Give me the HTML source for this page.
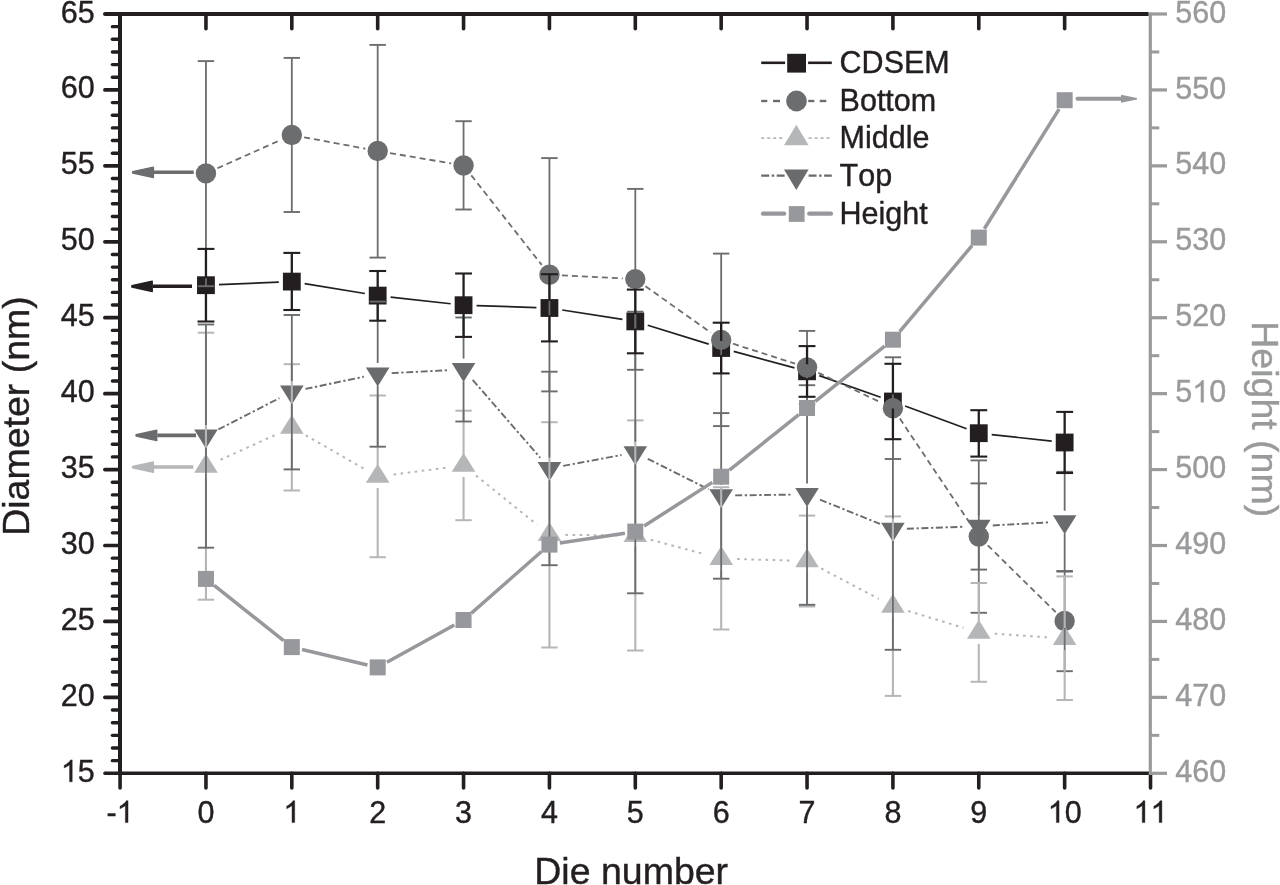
<!DOCTYPE html>
<html><head><meta charset="utf-8"><title>Chart</title>
<style>
html,body{margin:0;padding:0;background:#fff;}
body{width:1280px;height:885px;overflow:hidden;}
text{font-kerning:none;stroke-width:0.4px;paint-order:stroke;}
svg{display:block;will-change:transform;font-family:"Liberation Sans",sans-serif;}
</style></head><body>
<svg width="1280" height="885" viewBox="0 0 1280 885">
<rect width="1280" height="885" fill="#fff"/>
<line x1="218.94" y1="284.66" x2="278.83" y2="282.14" stroke="#231f20" stroke-width="1.7" />
<line x1="304.65" y1="283.69" x2="364.86" y2="293.51" stroke="#231f20" stroke-width="1.7" />
<line x1="390.61" y1="297.04" x2="450.64" y2="303.76" stroke="#231f20" stroke-width="1.7" />
<line x1="476.55" y1="305.62" x2="536.44" y2="307.58" stroke="#231f20" stroke-width="1.7" />
<line x1="562.27" y1="310" x2="622.46" y2="319.4" stroke="#231f20" stroke-width="1.7" />
<line x1="647.72" y1="325.25" x2="708.75" y2="344.15" stroke="#231f20" stroke-width="1.7" />
<line x1="733.72" y1="351.4" x2="794.49" y2="367.9" stroke="#231f20" stroke-width="1.7" />
<line x1="819.3" y1="375.61" x2="880.65" y2="397.19" stroke="#231f20" stroke-width="1.7" />
<line x1="905.11" y1="406" x2="966.58" y2="428.7" stroke="#231f20" stroke-width="1.7" />
<line x1="991.7" y1="434.6" x2="1051.73" y2="441.1" stroke="#231f20" stroke-width="1.7" />
<rect x="197.05" y="276.3" width="17.8" height="17.8" fill="#231f20"/>
<rect x="282.92" y="272.7" width="17.8" height="17.8" fill="#231f20"/>
<rect x="368.79" y="286.7" width="17.8" height="17.8" fill="#231f20"/>
<rect x="454.66" y="296.3" width="17.8" height="17.8" fill="#231f20"/>
<rect x="540.53" y="299.1" width="17.8" height="17.8" fill="#231f20"/>
<rect x="626.4" y="312.5" width="17.8" height="17.8" fill="#231f20"/>
<rect x="712.27" y="339.1" width="17.8" height="17.8" fill="#231f20"/>
<rect x="798.14" y="362.4" width="17.8" height="17.8" fill="#231f20"/>
<rect x="884.01" y="392.6" width="17.8" height="17.8" fill="#231f20"/>
<rect x="969.88" y="424.3" width="17.8" height="17.8" fill="#231f20"/>
<rect x="1055.75" y="433.6" width="17.8" height="17.8" fill="#231f20"/>
<line x1="217.36" y1="168.3" x2="280.41" y2="140.1" stroke="#6c6d6f" stroke-width="1.8" stroke-dasharray="6 4"/>
<line x1="304.11" y1="137.29" x2="365.4" y2="148.71" stroke="#6c6d6f" stroke-width="1.8" stroke-dasharray="6 4"/>
<line x1="390.02" y1="153.08" x2="451.23" y2="163.42" stroke="#6c6d6f" stroke-width="1.8" stroke-dasharray="6 4"/>
<line x1="471.29" y1="175.33" x2="541.7" y2="264.87" stroke="#6c6d6f" stroke-width="1.8" stroke-dasharray="6 4"/>
<line x1="561.91" y1="275.34" x2="622.82" y2="278.46" stroke="#6c6d6f" stroke-width="1.8" stroke-dasharray="6 4"/>
<line x1="645.5" y1="286.32" x2="710.97" y2="332.68" stroke="#6c6d6f" stroke-width="1.8" stroke-dasharray="6 4"/>
<line x1="733.07" y1="343.72" x2="795.14" y2="363.68" stroke="#6c6d6f" stroke-width="1.8" stroke-dasharray="6 4"/>
<line x1="818.34" y1="372.85" x2="881.61" y2="402.85" stroke="#6c6d6f" stroke-width="1.8" stroke-dasharray="6 4"/>
<line x1="899.86" y1="418.59" x2="971.83" y2="526.11" stroke="#6c6d6f" stroke-width="1.8" stroke-dasharray="6 4"/>
<line x1="987.69" y1="545.27" x2="1055.74" y2="612.23" stroke="#6c6d6f" stroke-width="1.8" stroke-dasharray="6 4"/>
<circle cx="205.95" cy="173.4" r="10.2" fill="#6c6d6f"/>
<circle cx="291.82" cy="135" r="10.2" fill="#6c6d6f"/>
<circle cx="377.69" cy="151" r="10.2" fill="#6c6d6f"/>
<circle cx="463.56" cy="165.5" r="10.2" fill="#6c6d6f"/>
<circle cx="549.43" cy="274.7" r="10.2" fill="#6c6d6f"/>
<circle cx="635.3" cy="279.1" r="10.2" fill="#6c6d6f"/>
<circle cx="721.17" cy="339.9" r="10.2" fill="#6c6d6f"/>
<circle cx="807.04" cy="367.5" r="10.2" fill="#6c6d6f"/>
<circle cx="892.91" cy="408.2" r="10.2" fill="#6c6d6f"/>
<circle cx="978.78" cy="536.5" r="10.2" fill="#6c6d6f"/>
<circle cx="1064.65" cy="621" r="10.2" fill="#6c6d6f"/>
<line x1="220.52" y1="459.78" x2="277.25" y2="434.02" stroke="#b5b6b8" stroke-width="2" stroke-dasharray="2.6 4.5"/>
<line x1="305.71" y1="435.34" x2="363.8" y2="468.56" stroke="#b5b6b8" stroke-width="2" stroke-dasharray="2.6 4.5"/>
<line x1="393.56" y1="474.47" x2="447.69" y2="467.53" stroke="#b5b6b8" stroke-width="2" stroke-dasharray="2.6 4.5"/>
<line x1="476.02" y1="475.54" x2="536.97" y2="524.66" stroke="#b5b6b8" stroke-width="2" stroke-dasharray="2.6 4.5"/>
<line x1="565.43" y1="534.87" x2="619.3" y2="535.43" stroke="#b5b6b8" stroke-width="2" stroke-dasharray="2.6 4.5"/>
<line x1="650.76" y1="539.74" x2="705.71" y2="554.46" stroke="#b5b6b8" stroke-width="2" stroke-dasharray="2.6 4.5"/>
<line x1="737.16" y1="559.05" x2="791.05" y2="560.55" stroke="#b5b6b8" stroke-width="2" stroke-dasharray="2.6 4.5"/>
<line x1="821.19" y1="568.47" x2="878.76" y2="598.83" stroke="#b5b6b8" stroke-width="2" stroke-dasharray="2.6 4.5"/>
<line x1="908.21" y1="610.97" x2="963.48" y2="627.83" stroke="#b5b6b8" stroke-width="2" stroke-dasharray="2.6 4.5"/>
<line x1="994.74" y1="633.63" x2="1048.69" y2="637.47" stroke="#b5b6b8" stroke-width="2" stroke-dasharray="2.6 4.5"/>
<polygon points="194.15,472.73 217.75,472.73 205.95,453.73" fill="#b5b6b8"/>
<polygon points="280.02,433.73 303.62,433.73 291.82,414.73" fill="#b5b6b8"/>
<polygon points="365.89,482.83 389.49,482.83 377.69,463.83" fill="#b5b6b8"/>
<polygon points="451.76,471.83 475.36,471.83 463.56,452.83" fill="#b5b6b8"/>
<polygon points="537.63,541.03 561.23,541.03 549.43,522.03" fill="#b5b6b8"/>
<polygon points="623.5,541.93 647.1,541.93 635.3,522.93" fill="#b5b6b8"/>
<polygon points="709.37,564.93 732.97,564.93 721.17,545.93" fill="#b5b6b8"/>
<polygon points="795.24,567.33 818.84,567.33 807.04,548.33" fill="#b5b6b8"/>
<polygon points="881.11,612.63 904.71,612.63 892.91,593.63" fill="#b5b6b8"/>
<polygon points="966.98,638.83 990.58,638.83 978.78,619.83" fill="#b5b6b8"/>
<polygon points="1052.85,644.93 1076.45,644.93 1064.65,625.93" fill="#b5b6b8"/>
<line x1="218.41" y1="429.42" x2="279.36" y2="398.18" stroke="#6a6b6d" stroke-width="1.9" stroke-dasharray="7 2.6 2.3 2.6"/>
<line x1="305.52" y1="388.93" x2="363.99" y2="376.67" stroke="#6a6b6d" stroke-width="1.9" stroke-dasharray="7 2.6 2.3 2.6"/>
<line x1="391.67" y1="373.08" x2="449.58" y2="370.12" stroke="#6a6b6d" stroke-width="1.9" stroke-dasharray="7 2.6 2.3 2.6"/>
<line x1="472.73" y1="379.98" x2="540.26" y2="457.82" stroke="#6a6b6d" stroke-width="1.9" stroke-dasharray="7 2.6 2.3 2.6"/>
<line x1="563.2" y1="465.85" x2="621.53" y2="455.05" stroke="#6a6b6d" stroke-width="1.9" stroke-dasharray="7 2.6 2.3 2.6"/>
<line x1="647.81" y1="458.78" x2="708.66" y2="489.32" stroke="#6a6b6d" stroke-width="1.9" stroke-dasharray="7 2.6 2.3 2.6"/>
<line x1="735.17" y1="495.4" x2="793.04" y2="494.6" stroke="#6a6b6d" stroke-width="1.9" stroke-dasharray="7 2.6 2.3 2.6"/>
<line x1="820.01" y1="499.66" x2="879.94" y2="523.94" stroke="#6a6b6d" stroke-width="1.9" stroke-dasharray="7 2.6 2.3 2.6"/>
<line x1="906.9" y1="528.71" x2="964.79" y2="526.69" stroke="#6a6b6d" stroke-width="1.9" stroke-dasharray="7 2.6 2.3 2.6"/>
<line x1="992.76" y1="525.43" x2="1050.67" y2="522.27" stroke="#6a6b6d" stroke-width="1.9" stroke-dasharray="7 2.6 2.3 2.6"/>
<polygon points="194.15,429.47 217.75,429.47 205.95,448.47" fill="#6a6b6d"/>
<polygon points="280.02,385.47 303.62,385.47 291.82,404.47" fill="#6a6b6d"/>
<polygon points="365.89,367.47 389.49,367.47 377.69,386.47" fill="#6a6b6d"/>
<polygon points="451.76,363.07 475.36,363.07 463.56,382.07" fill="#6a6b6d"/>
<polygon points="537.63,462.07 561.23,462.07 549.43,481.07" fill="#6a6b6d"/>
<polygon points="623.5,446.17 647.1,446.17 635.3,465.17" fill="#6a6b6d"/>
<polygon points="709.37,489.27 732.97,489.27 721.17,508.27" fill="#6a6b6d"/>
<polygon points="795.24,488.07 818.84,488.07 807.04,507.07" fill="#6a6b6d"/>
<polygon points="881.11,522.87 904.71,522.87 892.91,541.87" fill="#6a6b6d"/>
<polygon points="966.98,519.87 990.58,519.87 978.78,538.87" fill="#6a6b6d"/>
<polygon points="1052.85,515.17 1076.45,515.17 1064.65,534.17" fill="#6a6b6d"/>
<line x1="205.95" y1="61.1" x2="205.95" y2="166.4" stroke="#6c6d6f" stroke-width="1.8" />
<line x1="205.95" y1="180.4" x2="205.95" y2="286.2" stroke="#6c6d6f" stroke-width="1.8" />
<line x1="197.75" y1="61.1" x2="214.15" y2="61.1" stroke="#6c6d6f" stroke-width="1.9" />
<line x1="197.75" y1="286.2" x2="214.15" y2="286.2" stroke="#6c6d6f" stroke-width="1.9" />
<line x1="291.82" y1="57.9" x2="291.82" y2="128" stroke="#6c6d6f" stroke-width="1.8" />
<line x1="291.82" y1="142" x2="291.82" y2="212" stroke="#6c6d6f" stroke-width="1.8" />
<line x1="283.62" y1="57.9" x2="300.02" y2="57.9" stroke="#6c6d6f" stroke-width="1.9" />
<line x1="283.62" y1="212" x2="300.02" y2="212" stroke="#6c6d6f" stroke-width="1.9" />
<line x1="377.69" y1="44.9" x2="377.69" y2="144" stroke="#6c6d6f" stroke-width="1.8" />
<line x1="377.69" y1="158" x2="377.69" y2="257.6" stroke="#6c6d6f" stroke-width="1.8" />
<line x1="369.49" y1="44.9" x2="385.89" y2="44.9" stroke="#6c6d6f" stroke-width="1.9" />
<line x1="369.49" y1="257.6" x2="385.89" y2="257.6" stroke="#6c6d6f" stroke-width="1.9" />
<line x1="463.56" y1="121.2" x2="463.56" y2="158.5" stroke="#6c6d6f" stroke-width="1.8" />
<line x1="463.56" y1="172.5" x2="463.56" y2="209.5" stroke="#6c6d6f" stroke-width="1.8" />
<line x1="455.36" y1="121.2" x2="471.76" y2="121.2" stroke="#6c6d6f" stroke-width="1.9" />
<line x1="455.36" y1="209.5" x2="471.76" y2="209.5" stroke="#6c6d6f" stroke-width="1.9" />
<line x1="549.43" y1="158.1" x2="549.43" y2="267.7" stroke="#6c6d6f" stroke-width="1.8" />
<line x1="549.43" y1="281.7" x2="549.43" y2="391.4" stroke="#6c6d6f" stroke-width="1.8" />
<line x1="541.23" y1="158.1" x2="557.63" y2="158.1" stroke="#6c6d6f" stroke-width="1.9" />
<line x1="541.23" y1="391.4" x2="557.63" y2="391.4" stroke="#6c6d6f" stroke-width="1.9" />
<line x1="635.3" y1="188.9" x2="635.3" y2="272.1" stroke="#6c6d6f" stroke-width="1.8" />
<line x1="635.3" y1="286.1" x2="635.3" y2="369.8" stroke="#6c6d6f" stroke-width="1.8" />
<line x1="627.1" y1="188.9" x2="643.5" y2="188.9" stroke="#6c6d6f" stroke-width="1.9" />
<line x1="627.1" y1="369.8" x2="643.5" y2="369.8" stroke="#6c6d6f" stroke-width="1.9" />
<line x1="721.17" y1="253.6" x2="721.17" y2="332.9" stroke="#6c6d6f" stroke-width="1.8" />
<line x1="721.17" y1="346.9" x2="721.17" y2="426.1" stroke="#6c6d6f" stroke-width="1.8" />
<line x1="712.97" y1="253.6" x2="729.37" y2="253.6" stroke="#6c6d6f" stroke-width="1.9" />
<line x1="712.97" y1="426.1" x2="729.37" y2="426.1" stroke="#6c6d6f" stroke-width="1.9" />
<line x1="807.04" y1="330.9" x2="807.04" y2="360.5" stroke="#6c6d6f" stroke-width="1.8" />
<line x1="807.04" y1="374.5" x2="807.04" y2="404.1" stroke="#6c6d6f" stroke-width="1.8" />
<line x1="798.84" y1="330.9" x2="815.24" y2="330.9" stroke="#6c6d6f" stroke-width="1.9" />
<line x1="798.84" y1="404.1" x2="815.24" y2="404.1" stroke="#6c6d6f" stroke-width="1.9" />
<line x1="892.91" y1="357.3" x2="892.91" y2="401.2" stroke="#6c6d6f" stroke-width="1.8" />
<line x1="892.91" y1="415.2" x2="892.91" y2="459" stroke="#6c6d6f" stroke-width="1.8" />
<line x1="884.71" y1="357.3" x2="901.11" y2="357.3" stroke="#6c6d6f" stroke-width="1.9" />
<line x1="884.71" y1="459" x2="901.11" y2="459" stroke="#6c6d6f" stroke-width="1.9" />
<line x1="978.78" y1="460.4" x2="978.78" y2="529.5" stroke="#6c6d6f" stroke-width="1.8" />
<line x1="978.78" y1="543.5" x2="978.78" y2="612.8" stroke="#6c6d6f" stroke-width="1.8" />
<line x1="970.58" y1="460.4" x2="986.98" y2="460.4" stroke="#6c6d6f" stroke-width="1.9" />
<line x1="970.58" y1="612.8" x2="986.98" y2="612.8" stroke="#6c6d6f" stroke-width="1.9" />
<line x1="1064.65" y1="571.6" x2="1064.65" y2="614" stroke="#6c6d6f" stroke-width="1.8" />
<line x1="1064.65" y1="628" x2="1064.65" y2="671.2" stroke="#6c6d6f" stroke-width="1.8" />
<line x1="1056.45" y1="571.6" x2="1072.85" y2="571.6" stroke="#6c6d6f" stroke-width="1.9" />
<line x1="1056.45" y1="671.2" x2="1072.85" y2="671.2" stroke="#6c6d6f" stroke-width="1.9" />
<line x1="205.95" y1="332.7" x2="205.95" y2="455.4" stroke="#b5b6b8" stroke-width="2.1" />
<line x1="205.95" y1="477.9" x2="205.95" y2="599.7" stroke="#b5b6b8" stroke-width="2.1" />
<line x1="197.75" y1="332.7" x2="214.15" y2="332.7" stroke="#b5b6b8" stroke-width="2.0" />
<line x1="197.75" y1="599.7" x2="214.15" y2="599.7" stroke="#b5b6b8" stroke-width="2.0" />
<line x1="291.82" y1="364.2" x2="291.82" y2="416.4" stroke="#b5b6b8" stroke-width="2.1" />
<line x1="291.82" y1="438.9" x2="291.82" y2="490.5" stroke="#b5b6b8" stroke-width="2.1" />
<line x1="283.62" y1="364.2" x2="300.02" y2="364.2" stroke="#b5b6b8" stroke-width="2.0" />
<line x1="283.62" y1="490.5" x2="300.02" y2="490.5" stroke="#b5b6b8" stroke-width="2.0" />
<line x1="377.69" y1="395.5" x2="377.69" y2="465.5" stroke="#b5b6b8" stroke-width="2.1" />
<line x1="377.69" y1="488" x2="377.69" y2="557.2" stroke="#b5b6b8" stroke-width="2.1" />
<line x1="369.49" y1="395.5" x2="385.89" y2="395.5" stroke="#b5b6b8" stroke-width="2.0" />
<line x1="369.49" y1="557.2" x2="385.89" y2="557.2" stroke="#b5b6b8" stroke-width="2.0" />
<line x1="463.56" y1="410.7" x2="463.56" y2="454.5" stroke="#b5b6b8" stroke-width="2.1" />
<line x1="463.56" y1="477" x2="463.56" y2="520.2" stroke="#b5b6b8" stroke-width="2.1" />
<line x1="455.36" y1="410.7" x2="471.76" y2="410.7" stroke="#b5b6b8" stroke-width="2.0" />
<line x1="455.36" y1="520.2" x2="471.76" y2="520.2" stroke="#b5b6b8" stroke-width="2.0" />
<line x1="549.43" y1="422.2" x2="549.43" y2="523.7" stroke="#b5b6b8" stroke-width="2.1" />
<line x1="549.43" y1="546.2" x2="549.43" y2="647.5" stroke="#b5b6b8" stroke-width="2.1" />
<line x1="541.23" y1="422.2" x2="557.63" y2="422.2" stroke="#b5b6b8" stroke-width="2.0" />
<line x1="541.23" y1="647.5" x2="557.63" y2="647.5" stroke="#b5b6b8" stroke-width="2.0" />
<line x1="635.3" y1="420.4" x2="635.3" y2="524.6" stroke="#b5b6b8" stroke-width="2.1" />
<line x1="635.3" y1="547.1" x2="635.3" y2="650.5" stroke="#b5b6b8" stroke-width="2.1" />
<line x1="627.1" y1="420.4" x2="643.5" y2="420.4" stroke="#b5b6b8" stroke-width="2.0" />
<line x1="627.1" y1="650.5" x2="643.5" y2="650.5" stroke="#b5b6b8" stroke-width="2.0" />
<line x1="721.17" y1="487.2" x2="721.17" y2="547.6" stroke="#b5b6b8" stroke-width="2.1" />
<line x1="721.17" y1="570.1" x2="721.17" y2="629.5" stroke="#b5b6b8" stroke-width="2.1" />
<line x1="712.97" y1="487.2" x2="729.37" y2="487.2" stroke="#b5b6b8" stroke-width="2.0" />
<line x1="712.97" y1="629.5" x2="729.37" y2="629.5" stroke="#b5b6b8" stroke-width="2.0" />
<line x1="807.04" y1="515.6" x2="807.04" y2="550" stroke="#b5b6b8" stroke-width="2.1" />
<line x1="807.04" y1="572.5" x2="807.04" y2="606.5" stroke="#b5b6b8" stroke-width="2.1" />
<line x1="798.84" y1="515.6" x2="815.24" y2="515.6" stroke="#b5b6b8" stroke-width="2.0" />
<line x1="798.84" y1="606.5" x2="815.24" y2="606.5" stroke="#b5b6b8" stroke-width="2.0" />
<line x1="892.91" y1="516.4" x2="892.91" y2="595.3" stroke="#b5b6b8" stroke-width="2.1" />
<line x1="892.91" y1="617.8" x2="892.91" y2="695.9" stroke="#b5b6b8" stroke-width="2.1" />
<line x1="884.71" y1="516.4" x2="901.11" y2="516.4" stroke="#b5b6b8" stroke-width="2.0" />
<line x1="884.71" y1="695.9" x2="901.11" y2="695.9" stroke="#b5b6b8" stroke-width="2.0" />
<line x1="978.78" y1="583" x2="978.78" y2="621.5" stroke="#b5b6b8" stroke-width="2.1" />
<line x1="978.78" y1="644" x2="978.78" y2="681.8" stroke="#b5b6b8" stroke-width="2.1" />
<line x1="970.58" y1="583" x2="986.98" y2="583" stroke="#b5b6b8" stroke-width="2.0" />
<line x1="970.58" y1="681.8" x2="986.98" y2="681.8" stroke="#b5b6b8" stroke-width="2.0" />
<line x1="1064.65" y1="576.4" x2="1064.65" y2="627.6" stroke="#b5b6b8" stroke-width="2.1" />
<line x1="1064.65" y1="650.1" x2="1064.65" y2="700" stroke="#b5b6b8" stroke-width="2.1" />
<line x1="1056.45" y1="576.4" x2="1072.85" y2="576.4" stroke="#b5b6b8" stroke-width="2.0" />
<line x1="1056.45" y1="700" x2="1072.85" y2="700" stroke="#b5b6b8" stroke-width="2.0" />
<line x1="205.95" y1="324.5" x2="205.95" y2="425" stroke="#6a6b6d" stroke-width="1.8" />
<line x1="205.95" y1="447.6" x2="205.95" y2="547.7" stroke="#6a6b6d" stroke-width="1.8" />
<line x1="197.75" y1="324.5" x2="214.15" y2="324.5" stroke="#6a6b6d" stroke-width="1.9" />
<line x1="197.75" y1="547.7" x2="214.15" y2="547.7" stroke="#6a6b6d" stroke-width="1.9" />
<line x1="291.82" y1="315" x2="291.82" y2="381" stroke="#6a6b6d" stroke-width="1.8" />
<line x1="291.82" y1="403.6" x2="291.82" y2="469.4" stroke="#6a6b6d" stroke-width="1.8" />
<line x1="283.62" y1="315" x2="300.02" y2="315" stroke="#6a6b6d" stroke-width="1.9" />
<line x1="283.62" y1="469.4" x2="300.02" y2="469.4" stroke="#6a6b6d" stroke-width="1.9" />
<line x1="377.69" y1="301.6" x2="377.69" y2="363" stroke="#6a6b6d" stroke-width="1.8" />
<line x1="377.69" y1="385.6" x2="377.69" y2="446.7" stroke="#6a6b6d" stroke-width="1.8" />
<line x1="369.49" y1="301.6" x2="385.89" y2="301.6" stroke="#6a6b6d" stroke-width="1.9" />
<line x1="369.49" y1="446.7" x2="385.89" y2="446.7" stroke="#6a6b6d" stroke-width="1.9" />
<line x1="463.56" y1="317.5" x2="463.56" y2="358.6" stroke="#6a6b6d" stroke-width="1.8" />
<line x1="463.56" y1="381.2" x2="463.56" y2="421.5" stroke="#6a6b6d" stroke-width="1.8" />
<line x1="455.36" y1="317.5" x2="471.76" y2="317.5" stroke="#6a6b6d" stroke-width="1.9" />
<line x1="455.36" y1="421.5" x2="471.76" y2="421.5" stroke="#6a6b6d" stroke-width="1.9" />
<line x1="549.43" y1="371.7" x2="549.43" y2="457.6" stroke="#6a6b6d" stroke-width="1.8" />
<line x1="549.43" y1="480.2" x2="549.43" y2="565.2" stroke="#6a6b6d" stroke-width="1.8" />
<line x1="541.23" y1="371.7" x2="557.63" y2="371.7" stroke="#6a6b6d" stroke-width="1.9" />
<line x1="541.23" y1="565.2" x2="557.63" y2="565.2" stroke="#6a6b6d" stroke-width="1.9" />
<line x1="635.3" y1="311.7" x2="635.3" y2="441.7" stroke="#6a6b6d" stroke-width="1.8" />
<line x1="635.3" y1="464.3" x2="635.3" y2="593.3" stroke="#6a6b6d" stroke-width="1.8" />
<line x1="627.1" y1="311.7" x2="643.5" y2="311.7" stroke="#6a6b6d" stroke-width="1.9" />
<line x1="627.1" y1="593.3" x2="643.5" y2="593.3" stroke="#6a6b6d" stroke-width="1.9" />
<line x1="721.17" y1="413.1" x2="721.17" y2="484.8" stroke="#6a6b6d" stroke-width="1.8" />
<line x1="721.17" y1="507.4" x2="721.17" y2="578.7" stroke="#6a6b6d" stroke-width="1.8" />
<line x1="712.97" y1="413.1" x2="729.37" y2="413.1" stroke="#6a6b6d" stroke-width="1.9" />
<line x1="712.97" y1="578.7" x2="729.37" y2="578.7" stroke="#6a6b6d" stroke-width="1.9" />
<line x1="807.04" y1="385.2" x2="807.04" y2="483.6" stroke="#6a6b6d" stroke-width="1.8" />
<line x1="807.04" y1="506.2" x2="807.04" y2="604.8" stroke="#6a6b6d" stroke-width="1.8" />
<line x1="798.84" y1="385.2" x2="815.24" y2="385.2" stroke="#6a6b6d" stroke-width="1.9" />
<line x1="798.84" y1="604.8" x2="815.24" y2="604.8" stroke="#6a6b6d" stroke-width="1.9" />
<line x1="892.91" y1="408.4" x2="892.91" y2="518.4" stroke="#6a6b6d" stroke-width="1.8" />
<line x1="892.91" y1="541" x2="892.91" y2="649.8" stroke="#6a6b6d" stroke-width="1.8" />
<line x1="884.71" y1="408.4" x2="901.11" y2="408.4" stroke="#6a6b6d" stroke-width="1.9" />
<line x1="884.71" y1="649.8" x2="901.11" y2="649.8" stroke="#6a6b6d" stroke-width="1.9" />
<line x1="978.78" y1="483.4" x2="978.78" y2="515.4" stroke="#6a6b6d" stroke-width="1.8" />
<line x1="978.78" y1="538" x2="978.78" y2="569.6" stroke="#6a6b6d" stroke-width="1.8" />
<line x1="970.58" y1="483.4" x2="986.98" y2="483.4" stroke="#6a6b6d" stroke-width="1.9" />
<line x1="970.58" y1="569.6" x2="986.98" y2="569.6" stroke="#6a6b6d" stroke-width="1.9" />
<line x1="1064.65" y1="471.8" x2="1064.65" y2="510.7" stroke="#6a6b6d" stroke-width="1.8" />
<line x1="1064.65" y1="533.3" x2="1064.65" y2="571" stroke="#6a6b6d" stroke-width="1.8" />
<line x1="1056.45" y1="471.8" x2="1072.85" y2="471.8" stroke="#6a6b6d" stroke-width="1.9" />
<line x1="1056.45" y1="571" x2="1072.85" y2="571" stroke="#6a6b6d" stroke-width="1.9" />
<line x1="205.95" y1="248.9" x2="205.95" y2="278.2" stroke="#231f20" stroke-width="2.3" />
<line x1="205.95" y1="292.2" x2="205.95" y2="321.5" stroke="#231f20" stroke-width="2.3" />
<line x1="197.5" y1="248.9" x2="214.4" y2="248.9" stroke="#231f20" stroke-width="2.1" />
<line x1="197.5" y1="321.5" x2="214.4" y2="321.5" stroke="#231f20" stroke-width="2.1" />
<line x1="291.82" y1="252.9" x2="291.82" y2="274.6" stroke="#231f20" stroke-width="2.3" />
<line x1="291.82" y1="288.6" x2="291.82" y2="310" stroke="#231f20" stroke-width="2.3" />
<line x1="283.37" y1="252.9" x2="300.27" y2="252.9" stroke="#231f20" stroke-width="2.1" />
<line x1="283.37" y1="310" x2="300.27" y2="310" stroke="#231f20" stroke-width="2.1" />
<line x1="377.69" y1="271" x2="377.69" y2="288.6" stroke="#231f20" stroke-width="2.3" />
<line x1="377.69" y1="302.6" x2="377.69" y2="320.7" stroke="#231f20" stroke-width="2.3" />
<line x1="369.24" y1="271" x2="386.14" y2="271" stroke="#231f20" stroke-width="2.1" />
<line x1="369.24" y1="320.7" x2="386.14" y2="320.7" stroke="#231f20" stroke-width="2.1" />
<line x1="463.56" y1="273.5" x2="463.56" y2="298.2" stroke="#231f20" stroke-width="2.3" />
<line x1="463.56" y1="312.2" x2="463.56" y2="336.9" stroke="#231f20" stroke-width="2.3" />
<line x1="455.11" y1="273.5" x2="472.01" y2="273.5" stroke="#231f20" stroke-width="2.1" />
<line x1="455.11" y1="336.9" x2="472.01" y2="336.9" stroke="#231f20" stroke-width="2.1" />
<line x1="549.43" y1="274.2" x2="549.43" y2="301" stroke="#231f20" stroke-width="2.3" />
<line x1="549.43" y1="315" x2="549.43" y2="341.4" stroke="#231f20" stroke-width="2.3" />
<line x1="540.98" y1="274.2" x2="557.88" y2="274.2" stroke="#231f20" stroke-width="2.1" />
<line x1="540.98" y1="341.4" x2="557.88" y2="341.4" stroke="#231f20" stroke-width="2.1" />
<line x1="635.3" y1="289.6" x2="635.3" y2="314.4" stroke="#231f20" stroke-width="2.3" />
<line x1="635.3" y1="328.4" x2="635.3" y2="353.3" stroke="#231f20" stroke-width="2.3" />
<line x1="626.85" y1="289.6" x2="643.75" y2="289.6" stroke="#231f20" stroke-width="2.1" />
<line x1="626.85" y1="353.3" x2="643.75" y2="353.3" stroke="#231f20" stroke-width="2.1" />
<line x1="721.17" y1="322.7" x2="721.17" y2="341" stroke="#231f20" stroke-width="2.3" />
<line x1="721.17" y1="355" x2="721.17" y2="373.4" stroke="#231f20" stroke-width="2.3" />
<line x1="712.72" y1="322.7" x2="729.62" y2="322.7" stroke="#231f20" stroke-width="2.1" />
<line x1="712.72" y1="373.4" x2="729.62" y2="373.4" stroke="#231f20" stroke-width="2.1" />
<line x1="807.04" y1="346.1" x2="807.04" y2="364.3" stroke="#231f20" stroke-width="2.3" />
<line x1="807.04" y1="378.3" x2="807.04" y2="396.8" stroke="#231f20" stroke-width="2.3" />
<line x1="798.59" y1="346.1" x2="815.49" y2="346.1" stroke="#231f20" stroke-width="2.1" />
<line x1="798.59" y1="396.8" x2="815.49" y2="396.8" stroke="#231f20" stroke-width="2.1" />
<line x1="892.91" y1="363.8" x2="892.91" y2="394.5" stroke="#231f20" stroke-width="2.3" />
<line x1="892.91" y1="408.5" x2="892.91" y2="439.2" stroke="#231f20" stroke-width="2.3" />
<line x1="884.46" y1="363.8" x2="901.36" y2="363.8" stroke="#231f20" stroke-width="2.1" />
<line x1="884.46" y1="439.2" x2="901.36" y2="439.2" stroke="#231f20" stroke-width="2.1" />
<line x1="978.78" y1="410.2" x2="978.78" y2="426.2" stroke="#231f20" stroke-width="2.3" />
<line x1="978.78" y1="440.2" x2="978.78" y2="456.6" stroke="#231f20" stroke-width="2.3" />
<line x1="970.33" y1="410.2" x2="987.23" y2="410.2" stroke="#231f20" stroke-width="2.1" />
<line x1="970.33" y1="456.6" x2="987.23" y2="456.6" stroke="#231f20" stroke-width="2.1" />
<line x1="1064.65" y1="411.9" x2="1064.65" y2="435.5" stroke="#231f20" stroke-width="2.3" />
<line x1="1064.65" y1="449.5" x2="1064.65" y2="473" stroke="#231f20" stroke-width="2.3" />
<line x1="1056.2" y1="411.9" x2="1073.1" y2="411.9" stroke="#231f20" stroke-width="2.1" />
<line x1="1056.2" y1="473" x2="1073.1" y2="473" stroke="#231f20" stroke-width="2.1" />
<line x1="214.17" y1="585.43" x2="283.6" y2="640.57" stroke="#97989b" stroke-width="3.5" />
<line x1="302.04" y1="649.52" x2="367.47" y2="664.98" stroke="#97989b" stroke-width="3.5" />
<line x1="386.88" y1="662.33" x2="454.37" y2="625.07" stroke="#97989b" stroke-width="3.5" />
<line x1="471.45" y1="613.07" x2="541.54" y2="551.53" stroke="#97989b" stroke-width="3.5" />
<line x1="559.81" y1="543.03" x2="624.92" y2="533.17" stroke="#97989b" stroke-width="3.5" />
<line x1="644.15" y1="525.94" x2="712.32" y2="482.36" stroke="#97989b" stroke-width="3.5" />
<line x1="729.37" y1="470.14" x2="798.84" y2="414.56" stroke="#97989b" stroke-width="3.5" />
<line x1="815.26" y1="401.46" x2="884.69" y2="346.24" stroke="#97989b" stroke-width="3.5" />
<line x1="899.67" y1="331.66" x2="972.02" y2="245.64" stroke="#97989b" stroke-width="3.5" />
<line x1="984.34" y1="228.7" x2="1059.09" y2="109.1" stroke="#97989b" stroke-width="3.5" />
<rect x="197.95" y="570.9" width="16" height="16" fill="#97989b"/>
<rect x="283.82" y="639.1" width="16" height="16" fill="#97989b"/>
<rect x="369.69" y="659.4" width="16" height="16" fill="#97989b"/>
<rect x="455.56" y="612" width="16" height="16" fill="#97989b"/>
<rect x="541.43" y="536.6" width="16" height="16" fill="#97989b"/>
<rect x="627.3" y="523.6" width="16" height="16" fill="#97989b"/>
<rect x="713.17" y="468.7" width="16" height="16" fill="#97989b"/>
<rect x="799.04" y="400" width="16" height="16" fill="#97989b"/>
<rect x="884.91" y="331.7" width="16" height="16" fill="#97989b"/>
<rect x="970.78" y="229.6" width="16" height="16" fill="#97989b"/>
<rect x="1056.65" y="92.2" width="16" height="16" fill="#97989b"/>
<line x1="154" y1="172.3" x2="193.7" y2="172.3" stroke="#6c6d6f" stroke-width="3.4" />
<polygon points="132.7,171.6 132.7,173 153.4,177.5 153.4,167.1" fill="#6c6d6f" stroke="#6c6d6f" stroke-width="1.4" stroke-linejoin="round"/>
<line x1="152.8" y1="286.3" x2="192" y2="286.3" stroke="#231f20" stroke-width="3.4" />
<polygon points="131.9,285.6 131.9,287 152.2,291.5 152.2,281.1" fill="#231f20" stroke="#231f20" stroke-width="1.4" stroke-linejoin="round"/>
<line x1="157.3" y1="435.4" x2="196" y2="435.4" stroke="#6a6b6d" stroke-width="3.6" />
<polygon points="136.1,434.7 136.1,436.1 156.7,440.6 156.7,430.2" fill="#6a6b6d" stroke="#6a6b6d" stroke-width="1.4" stroke-linejoin="round"/>
<line x1="154" y1="467.1" x2="193.3" y2="467.1" stroke="#b5b6b8" stroke-width="3.5" />
<polygon points="132.6,466.4 132.6,467.8 153.4,472.3 153.4,461.9" fill="#b5b6b8" stroke="#b5b6b8" stroke-width="1.4" stroke-linejoin="round"/>
<line x1="1077.5" y1="98.8" x2="1122" y2="98.8" stroke="#97989b" stroke-width="4" stroke-linecap="round"/>
<polygon points="1137,98 1137,99.6 1121,102.8 1121,94.8" fill="#97989b"/>
<line x1="120" y1="12" x2="120" y2="775" stroke="#231f20" stroke-width="4" />
<line x1="105" y1="14" x2="1148.7" y2="14" stroke="#231f20" stroke-width="4" />
<line x1="105" y1="773.3" x2="1150.3" y2="773.3" stroke="#231f20" stroke-width="3.6" />
<line x1="112.4" y1="26.66" x2="120" y2="26.66" stroke="#231f20" stroke-width="3.4" stroke-linecap="round"/>
<line x1="112.4" y1="39.31" x2="120" y2="39.31" stroke="#231f20" stroke-width="3.4" stroke-linecap="round"/>
<line x1="112.4" y1="51.96" x2="120" y2="51.96" stroke="#231f20" stroke-width="3.4" stroke-linecap="round"/>
<line x1="112.4" y1="64.62" x2="120" y2="64.62" stroke="#231f20" stroke-width="3.4" stroke-linecap="round"/>
<line x1="112.4" y1="77.28" x2="120" y2="77.28" stroke="#231f20" stroke-width="3.4" stroke-linecap="round"/>
<line x1="104.9" y1="89.93" x2="120" y2="89.93" stroke="#231f20" stroke-width="3.7" stroke-linecap="round"/>
<line x1="112.4" y1="102.58" x2="120" y2="102.58" stroke="#231f20" stroke-width="3.4" stroke-linecap="round"/>
<line x1="112.4" y1="115.24" x2="120" y2="115.24" stroke="#231f20" stroke-width="3.4" stroke-linecap="round"/>
<line x1="112.4" y1="127.89" x2="120" y2="127.89" stroke="#231f20" stroke-width="3.4" stroke-linecap="round"/>
<line x1="112.4" y1="140.55" x2="120" y2="140.55" stroke="#231f20" stroke-width="3.4" stroke-linecap="round"/>
<line x1="112.4" y1="153.2" x2="120" y2="153.2" stroke="#231f20" stroke-width="3.4" stroke-linecap="round"/>
<line x1="104.9" y1="165.86" x2="120" y2="165.86" stroke="#231f20" stroke-width="3.7" stroke-linecap="round"/>
<line x1="112.4" y1="178.51" x2="120" y2="178.51" stroke="#231f20" stroke-width="3.4" stroke-linecap="round"/>
<line x1="112.4" y1="191.17" x2="120" y2="191.17" stroke="#231f20" stroke-width="3.4" stroke-linecap="round"/>
<line x1="112.4" y1="203.82" x2="120" y2="203.82" stroke="#231f20" stroke-width="3.4" stroke-linecap="round"/>
<line x1="112.4" y1="216.48" x2="120" y2="216.48" stroke="#231f20" stroke-width="3.4" stroke-linecap="round"/>
<line x1="112.4" y1="229.13" x2="120" y2="229.13" stroke="#231f20" stroke-width="3.4" stroke-linecap="round"/>
<line x1="104.9" y1="241.79" x2="120" y2="241.79" stroke="#231f20" stroke-width="3.7" stroke-linecap="round"/>
<line x1="112.4" y1="254.44" x2="120" y2="254.44" stroke="#231f20" stroke-width="3.4" stroke-linecap="round"/>
<line x1="112.4" y1="267.1" x2="120" y2="267.1" stroke="#231f20" stroke-width="3.4" stroke-linecap="round"/>
<line x1="112.4" y1="279.75" x2="120" y2="279.75" stroke="#231f20" stroke-width="3.4" stroke-linecap="round"/>
<line x1="112.4" y1="292.41" x2="120" y2="292.41" stroke="#231f20" stroke-width="3.4" stroke-linecap="round"/>
<line x1="112.4" y1="305.06" x2="120" y2="305.06" stroke="#231f20" stroke-width="3.4" stroke-linecap="round"/>
<line x1="104.9" y1="317.72" x2="120" y2="317.72" stroke="#231f20" stroke-width="3.7" stroke-linecap="round"/>
<line x1="112.4" y1="330.38" x2="120" y2="330.38" stroke="#231f20" stroke-width="3.4" stroke-linecap="round"/>
<line x1="112.4" y1="343.03" x2="120" y2="343.03" stroke="#231f20" stroke-width="3.4" stroke-linecap="round"/>
<line x1="112.4" y1="355.69" x2="120" y2="355.69" stroke="#231f20" stroke-width="3.4" stroke-linecap="round"/>
<line x1="112.4" y1="368.34" x2="120" y2="368.34" stroke="#231f20" stroke-width="3.4" stroke-linecap="round"/>
<line x1="112.4" y1="381" x2="120" y2="381" stroke="#231f20" stroke-width="3.4" stroke-linecap="round"/>
<line x1="104.9" y1="393.65" x2="120" y2="393.65" stroke="#231f20" stroke-width="3.7" stroke-linecap="round"/>
<line x1="112.4" y1="406.31" x2="120" y2="406.31" stroke="#231f20" stroke-width="3.4" stroke-linecap="round"/>
<line x1="112.4" y1="418.96" x2="120" y2="418.96" stroke="#231f20" stroke-width="3.4" stroke-linecap="round"/>
<line x1="112.4" y1="431.61" x2="120" y2="431.61" stroke="#231f20" stroke-width="3.4" stroke-linecap="round"/>
<line x1="112.4" y1="444.27" x2="120" y2="444.27" stroke="#231f20" stroke-width="3.4" stroke-linecap="round"/>
<line x1="112.4" y1="456.92" x2="120" y2="456.92" stroke="#231f20" stroke-width="3.4" stroke-linecap="round"/>
<line x1="104.9" y1="469.58" x2="120" y2="469.58" stroke="#231f20" stroke-width="3.7" stroke-linecap="round"/>
<line x1="112.4" y1="482.23" x2="120" y2="482.23" stroke="#231f20" stroke-width="3.4" stroke-linecap="round"/>
<line x1="112.4" y1="494.89" x2="120" y2="494.89" stroke="#231f20" stroke-width="3.4" stroke-linecap="round"/>
<line x1="112.4" y1="507.54" x2="120" y2="507.54" stroke="#231f20" stroke-width="3.4" stroke-linecap="round"/>
<line x1="112.4" y1="520.2" x2="120" y2="520.2" stroke="#231f20" stroke-width="3.4" stroke-linecap="round"/>
<line x1="112.4" y1="532.86" x2="120" y2="532.86" stroke="#231f20" stroke-width="3.4" stroke-linecap="round"/>
<line x1="104.9" y1="545.51" x2="120" y2="545.51" stroke="#231f20" stroke-width="3.7" stroke-linecap="round"/>
<line x1="112.4" y1="558.16" x2="120" y2="558.16" stroke="#231f20" stroke-width="3.4" stroke-linecap="round"/>
<line x1="112.4" y1="570.82" x2="120" y2="570.82" stroke="#231f20" stroke-width="3.4" stroke-linecap="round"/>
<line x1="112.4" y1="583.48" x2="120" y2="583.48" stroke="#231f20" stroke-width="3.4" stroke-linecap="round"/>
<line x1="112.4" y1="596.13" x2="120" y2="596.13" stroke="#231f20" stroke-width="3.4" stroke-linecap="round"/>
<line x1="112.4" y1="608.78" x2="120" y2="608.78" stroke="#231f20" stroke-width="3.4" stroke-linecap="round"/>
<line x1="104.9" y1="621.44" x2="120" y2="621.44" stroke="#231f20" stroke-width="3.7" stroke-linecap="round"/>
<line x1="112.4" y1="634.09" x2="120" y2="634.09" stroke="#231f20" stroke-width="3.4" stroke-linecap="round"/>
<line x1="112.4" y1="646.75" x2="120" y2="646.75" stroke="#231f20" stroke-width="3.4" stroke-linecap="round"/>
<line x1="112.4" y1="659.4" x2="120" y2="659.4" stroke="#231f20" stroke-width="3.4" stroke-linecap="round"/>
<line x1="112.4" y1="672.06" x2="120" y2="672.06" stroke="#231f20" stroke-width="3.4" stroke-linecap="round"/>
<line x1="112.4" y1="684.71" x2="120" y2="684.71" stroke="#231f20" stroke-width="3.4" stroke-linecap="round"/>
<line x1="104.9" y1="697.37" x2="120" y2="697.37" stroke="#231f20" stroke-width="3.7" stroke-linecap="round"/>
<line x1="112.4" y1="710.02" x2="120" y2="710.02" stroke="#231f20" stroke-width="3.4" stroke-linecap="round"/>
<line x1="112.4" y1="722.68" x2="120" y2="722.68" stroke="#231f20" stroke-width="3.4" stroke-linecap="round"/>
<line x1="112.4" y1="735.33" x2="120" y2="735.33" stroke="#231f20" stroke-width="3.4" stroke-linecap="round"/>
<line x1="112.4" y1="747.99" x2="120" y2="747.99" stroke="#231f20" stroke-width="3.4" stroke-linecap="round"/>
<line x1="112.4" y1="760.64" x2="120" y2="760.64" stroke="#231f20" stroke-width="3.4" stroke-linecap="round"/>
<circle cx="105" cy="14" r="2" fill="#231f20"/>
<circle cx="105" cy="773.3" r="1.8" fill="#231f20"/>
<line x1="120.08" y1="773.3" x2="120.08" y2="788" stroke="#231f20" stroke-width="3.6" stroke-linecap="round"/>
<line x1="205.95" y1="773.3" x2="205.95" y2="788" stroke="#231f20" stroke-width="3.6" stroke-linecap="round"/>
<line x1="205.95" y1="14" x2="205.95" y2="28.8" stroke="#231f20" stroke-width="3.6" stroke-linecap="round"/>
<line x1="291.82" y1="773.3" x2="291.82" y2="788" stroke="#231f20" stroke-width="3.6" stroke-linecap="round"/>
<line x1="291.82" y1="14" x2="291.82" y2="28.8" stroke="#231f20" stroke-width="3.6" stroke-linecap="round"/>
<line x1="377.69" y1="773.3" x2="377.69" y2="788" stroke="#231f20" stroke-width="3.6" stroke-linecap="round"/>
<line x1="377.69" y1="14" x2="377.69" y2="28.8" stroke="#231f20" stroke-width="3.6" stroke-linecap="round"/>
<line x1="463.56" y1="773.3" x2="463.56" y2="788" stroke="#231f20" stroke-width="3.6" stroke-linecap="round"/>
<line x1="463.56" y1="14" x2="463.56" y2="28.8" stroke="#231f20" stroke-width="3.6" stroke-linecap="round"/>
<line x1="549.43" y1="773.3" x2="549.43" y2="788" stroke="#231f20" stroke-width="3.6" stroke-linecap="round"/>
<line x1="549.43" y1="14" x2="549.43" y2="28.8" stroke="#231f20" stroke-width="3.6" stroke-linecap="round"/>
<line x1="635.3" y1="773.3" x2="635.3" y2="788" stroke="#231f20" stroke-width="3.6" stroke-linecap="round"/>
<line x1="635.3" y1="14" x2="635.3" y2="28.8" stroke="#231f20" stroke-width="3.6" stroke-linecap="round"/>
<line x1="721.17" y1="773.3" x2="721.17" y2="788" stroke="#231f20" stroke-width="3.6" stroke-linecap="round"/>
<line x1="721.17" y1="14" x2="721.17" y2="28.8" stroke="#231f20" stroke-width="3.6" stroke-linecap="round"/>
<line x1="807.04" y1="773.3" x2="807.04" y2="788" stroke="#231f20" stroke-width="3.6" stroke-linecap="round"/>
<line x1="807.04" y1="14" x2="807.04" y2="28.8" stroke="#231f20" stroke-width="3.6" stroke-linecap="round"/>
<line x1="892.91" y1="773.3" x2="892.91" y2="788" stroke="#231f20" stroke-width="3.6" stroke-linecap="round"/>
<line x1="892.91" y1="14" x2="892.91" y2="28.8" stroke="#231f20" stroke-width="3.6" stroke-linecap="round"/>
<line x1="978.78" y1="773.3" x2="978.78" y2="788" stroke="#231f20" stroke-width="3.6" stroke-linecap="round"/>
<line x1="978.78" y1="14" x2="978.78" y2="28.8" stroke="#231f20" stroke-width="3.6" stroke-linecap="round"/>
<line x1="1064.65" y1="773.3" x2="1064.65" y2="788" stroke="#231f20" stroke-width="3.6" stroke-linecap="round"/>
<line x1="1064.65" y1="14" x2="1064.65" y2="28.8" stroke="#231f20" stroke-width="3.6" stroke-linecap="round"/>
<line x1="1150.52" y1="773.3" x2="1150.52" y2="788" stroke="#231f20" stroke-width="3.6" stroke-linecap="round"/>
<line x1="1150.3" y1="12.4" x2="1150.3" y2="774.9" stroke="#999a9c" stroke-width="3.2" />
<line x1="1150.3" y1="14" x2="1167" y2="14" stroke="#999a9c" stroke-width="3.2" />
<line x1="1150.3" y1="51.96" x2="1159.3" y2="51.96" stroke="#999a9c" stroke-width="3.0" />
<line x1="1150.3" y1="89.93" x2="1167" y2="89.93" stroke="#999a9c" stroke-width="3.2" />
<line x1="1150.3" y1="127.89" x2="1159.3" y2="127.89" stroke="#999a9c" stroke-width="3.0" />
<line x1="1150.3" y1="165.86" x2="1167" y2="165.86" stroke="#999a9c" stroke-width="3.2" />
<line x1="1150.3" y1="203.82" x2="1159.3" y2="203.82" stroke="#999a9c" stroke-width="3.0" />
<line x1="1150.3" y1="241.79" x2="1167" y2="241.79" stroke="#999a9c" stroke-width="3.2" />
<line x1="1150.3" y1="279.75" x2="1159.3" y2="279.75" stroke="#999a9c" stroke-width="3.0" />
<line x1="1150.3" y1="317.72" x2="1167" y2="317.72" stroke="#999a9c" stroke-width="3.2" />
<line x1="1150.3" y1="355.68" x2="1159.3" y2="355.68" stroke="#999a9c" stroke-width="3.0" />
<line x1="1150.3" y1="393.65" x2="1167" y2="393.65" stroke="#999a9c" stroke-width="3.2" />
<line x1="1150.3" y1="431.61" x2="1159.3" y2="431.61" stroke="#999a9c" stroke-width="3.0" />
<line x1="1150.3" y1="469.58" x2="1167" y2="469.58" stroke="#999a9c" stroke-width="3.2" />
<line x1="1150.3" y1="507.54" x2="1159.3" y2="507.54" stroke="#999a9c" stroke-width="3.0" />
<line x1="1150.3" y1="545.51" x2="1167" y2="545.51" stroke="#999a9c" stroke-width="3.2" />
<line x1="1150.3" y1="583.47" x2="1159.3" y2="583.47" stroke="#999a9c" stroke-width="3.0" />
<line x1="1150.3" y1="621.44" x2="1167" y2="621.44" stroke="#999a9c" stroke-width="3.2" />
<line x1="1150.3" y1="659.4" x2="1159.3" y2="659.4" stroke="#999a9c" stroke-width="3.0" />
<line x1="1150.3" y1="697.37" x2="1167" y2="697.37" stroke="#999a9c" stroke-width="3.2" />
<line x1="1150.3" y1="735.33" x2="1159.3" y2="735.33" stroke="#999a9c" stroke-width="3.0" />
<line x1="1150.3" y1="773.3" x2="1167" y2="773.3" stroke="#999a9c" stroke-width="3.2" />
<text class="t" x="60.87" y="22.5" font-size="30.5" fill="#231f20" stroke="#231f20">65</text>
<text class="t" x="60.87" y="98.43" font-size="30.5" fill="#231f20" stroke="#231f20">60</text>
<text class="t" x="60.87" y="174.36" font-size="30.5" fill="#231f20" stroke="#231f20">55</text>
<text class="t" x="60.87" y="250.29" font-size="30.5" fill="#231f20" stroke="#231f20">50</text>
<text class="t" x="60.87" y="326.22" font-size="30.5" fill="#231f20" stroke="#231f20">45</text>
<text class="t" x="60.87" y="402.15" font-size="30.5" fill="#231f20" stroke="#231f20">40</text>
<text class="t" x="60.87" y="478.08" font-size="30.5" fill="#231f20" stroke="#231f20">35</text>
<text class="t" x="60.87" y="554.01" font-size="30.5" fill="#231f20" stroke="#231f20">30</text>
<text class="t" x="60.87" y="629.94" font-size="30.5" fill="#231f20" stroke="#231f20">25</text>
<text class="t" x="60.87" y="705.87" font-size="30.5" fill="#231f20" stroke="#231f20">20</text>
<path d="M763 0H583V1147Q518 1085 412.5 1023Q307 961 223 930V1104Q374 1175 487 1276Q600 1377 647 1472H763Z" transform="translate(60.87 781.8) scale(0.01489 -0.01489)" fill="#231f20" stroke="#231f20" stroke-width="0.4" vector-effect="non-scaling-stroke"/>
<text class="t" x="60.87" y="781.8" font-size="30.5" fill="#231f20" stroke="#231f20"><tspan visibility="hidden">1</tspan>5</text>
<path d="M763 0H583V1147Q518 1085 412.5 1023Q307 961 223 930V1104Q374 1175 487 1276Q600 1377 647 1472H763Z" transform="translate(116.68 822.6) scale(0.01489 -0.01489)" fill="#231f20" stroke="#231f20" stroke-width="0.4" vector-effect="non-scaling-stroke"/>
<text class="t" x="106.52" y="822.6" font-size="30.5" fill="#231f20" stroke="#231f20">-<tspan visibility="hidden">1</tspan></text>
<text class="t" x="197.47" y="822.6" font-size="30.5" fill="#231f20" stroke="#231f20">0</text>
<path d="M763 0H583V1147Q518 1085 412.5 1023Q307 961 223 930V1104Q374 1175 487 1276Q600 1377 647 1472H763Z" transform="translate(283.34 822.6) scale(0.01489 -0.01489)" fill="#231f20" stroke="#231f20" stroke-width="0.4" vector-effect="non-scaling-stroke"/>
<text class="t" x="283.34" y="822.6" font-size="30.5" fill="#231f20" stroke="#231f20"><tspan visibility="hidden">1</tspan></text>
<text class="t" x="369.21" y="822.6" font-size="30.5" fill="#231f20" stroke="#231f20">2</text>
<text class="t" x="455.08" y="822.6" font-size="30.5" fill="#231f20" stroke="#231f20">3</text>
<text class="t" x="540.95" y="822.6" font-size="30.5" fill="#231f20" stroke="#231f20">4</text>
<text class="t" x="626.82" y="822.6" font-size="30.5" fill="#231f20" stroke="#231f20">5</text>
<text class="t" x="712.69" y="822.6" font-size="30.5" fill="#231f20" stroke="#231f20">6</text>
<text class="t" x="798.56" y="822.6" font-size="30.5" fill="#231f20" stroke="#231f20">7</text>
<text class="t" x="884.43" y="822.6" font-size="30.5" fill="#231f20" stroke="#231f20">8</text>
<text class="t" x="970.3" y="822.6" font-size="30.5" fill="#231f20" stroke="#231f20">9</text>
<path d="M763 0H583V1147Q518 1085 412.5 1023Q307 961 223 930V1104Q374 1175 487 1276Q600 1377 647 1472H763Z" transform="translate(1047.69 822.6) scale(0.01489 -0.01489)" fill="#231f20" stroke="#231f20" stroke-width="0.4" vector-effect="non-scaling-stroke"/>
<text class="t" x="1047.69" y="822.6" font-size="30.5" fill="#231f20" stroke="#231f20"><tspan visibility="hidden">1</tspan>0</text>
<path d="M763 0H583V1147Q518 1085 412.5 1023Q307 961 223 930V1104Q374 1175 487 1276Q600 1377 647 1472H763Z" transform="translate(1133.56 822.6) scale(0.01489 -0.01489)" fill="#231f20" stroke="#231f20" stroke-width="0.4" vector-effect="non-scaling-stroke"/>
<path d="M763 0H583V1147Q518 1085 412.5 1023Q307 961 223 930V1104Q374 1175 487 1276Q600 1377 647 1472H763Z" transform="translate(1150.52 822.6) scale(0.01489 -0.01489)" fill="#231f20" stroke="#231f20" stroke-width="0.4" vector-effect="non-scaling-stroke"/>
<text class="t" x="1133.56" y="822.6" font-size="30.5" fill="#231f20" stroke="#231f20"><tspan visibility="hidden">1</tspan><tspan visibility="hidden">1</tspan></text>
<text class="t" x="1175.3" y="22.6" font-size="30.5" fill="#999a9c" stroke="#999a9c">560</text>
<text class="t" x="1175.3" y="98.53" font-size="30.5" fill="#999a9c" stroke="#999a9c">550</text>
<text class="t" x="1175.3" y="174.46" font-size="30.5" fill="#999a9c" stroke="#999a9c">540</text>
<text class="t" x="1175.3" y="250.39" font-size="30.5" fill="#999a9c" stroke="#999a9c">530</text>
<text class="t" x="1175.3" y="326.32" font-size="30.5" fill="#999a9c" stroke="#999a9c">520</text>
<path d="M763 0H583V1147Q518 1085 412.5 1023Q307 961 223 930V1104Q374 1175 487 1276Q600 1377 647 1472H763Z" transform="translate(1192.26 402.25) scale(0.01489 -0.01489)" fill="#999a9c" stroke="#999a9c" stroke-width="0.4" vector-effect="non-scaling-stroke"/>
<text class="t" x="1175.3" y="402.25" font-size="30.5" fill="#999a9c" stroke="#999a9c">5<tspan visibility="hidden">1</tspan>0</text>
<text class="t" x="1175.3" y="478.18" font-size="30.5" fill="#999a9c" stroke="#999a9c">500</text>
<text class="t" x="1175.3" y="554.11" font-size="30.5" fill="#999a9c" stroke="#999a9c">490</text>
<text class="t" x="1175.3" y="630.04" font-size="30.5" fill="#999a9c" stroke="#999a9c">480</text>
<text class="t" x="1175.3" y="705.97" font-size="30.5" fill="#999a9c" stroke="#999a9c">470</text>
<text class="t" x="1175.3" y="781.9" font-size="30.5" fill="#999a9c" stroke="#999a9c">460</text>
<text class="t" transform="translate(28.5 416) rotate(-90)" text-anchor="middle" font-size="37.5" fill="#231f20" stroke="#231f20">Diameter (nm)</text>
<text class="t" transform="translate(1252.2 419.2) rotate(90)" text-anchor="middle" font-size="37.5" fill="#999a9c" stroke="#999a9c">Height (nm)</text>
<text class="t" x="631.2" y="884" text-anchor="middle" font-size="37.5" fill="#231f20" stroke="#231f20">Die number</text>
<line x1="761.2" y1="62.8" x2="785.1" y2="62.8" stroke="#231f20" stroke-width="2.6" />
<line x1="808.1" y1="62.8" x2="831.8" y2="62.8" stroke="#231f20" stroke-width="2.6" />
<rect x="787.2" y="53.8" width="18.8" height="18.8" fill="#231f20"/>
<line x1="761.2" y1="101" x2="767.3" y2="101" stroke="#6c6d6f" stroke-width="2.4" />
<line x1="773" y1="101" x2="780" y2="101" stroke="#6c6d6f" stroke-width="2.4" />
<line x1="808.2" y1="101" x2="814.3" y2="101" stroke="#6c6d6f" stroke-width="2.4" />
<line x1="819.7" y1="101" x2="826.3" y2="101" stroke="#6c6d6f" stroke-width="2.4" />
<circle cx="796.5" cy="101" r="10.4" fill="#6c6d6f"/>
<line x1="761.2" y1="138.2" x2="784.6" y2="138.2" stroke="#b5b6b8" stroke-width="1.8" stroke-dasharray="3 3"/>
<line x1="808.6" y1="138.2" x2="831.8" y2="138.2" stroke="#b5b6b8" stroke-width="1.8" stroke-dasharray="3 3"/>
<polygon points="784,145.3 808.6,145.3 796.3,124.8" fill="#b5b6b8"/>
<line x1="761.2" y1="175.6" x2="784.6" y2="175.6" stroke="#6a6b6d" stroke-width="2.2" stroke-dasharray="8 2.5 2.5 2.5"/>
<line x1="808.6" y1="175.6" x2="831.8" y2="175.6" stroke="#6a6b6d" stroke-width="2.2" stroke-dasharray="8 2.5 2.5 2.5"/>
<polygon points="784,169.6 808.6,169.6 796.3,190" fill="#6a6b6d"/>
<line x1="763" y1="213.7" x2="784.2" y2="213.7" stroke="#97989b" stroke-width="4.2" stroke-linecap="round"/>
<line x1="809.2" y1="213.7" x2="831" y2="213.7" stroke="#97989b" stroke-width="4.2" stroke-linecap="round"/>
<rect x="788.8" y="206.1" width="15.8" height="15.8" fill="#97989b"/>
<text class="t" x="839.6" y="72.5" font-size="30.5" fill="#231f20" stroke="#231f20">CDSEM</text>
<text class="t" x="839.6" y="110.6" font-size="30.5" fill="#231f20" stroke="#231f20">Bottom</text>
<text class="t" x="839.6" y="148.4" font-size="30.5" fill="#231f20" stroke="#231f20">Middle</text>
<text class="t" x="839.6" y="186.1" font-size="30.5" fill="#231f20" stroke="#231f20">Top</text>
<text class="t" x="839.6" y="223.6" font-size="30.5" fill="#231f20" stroke="#231f20">Height</text>
</svg>
</body></html>
